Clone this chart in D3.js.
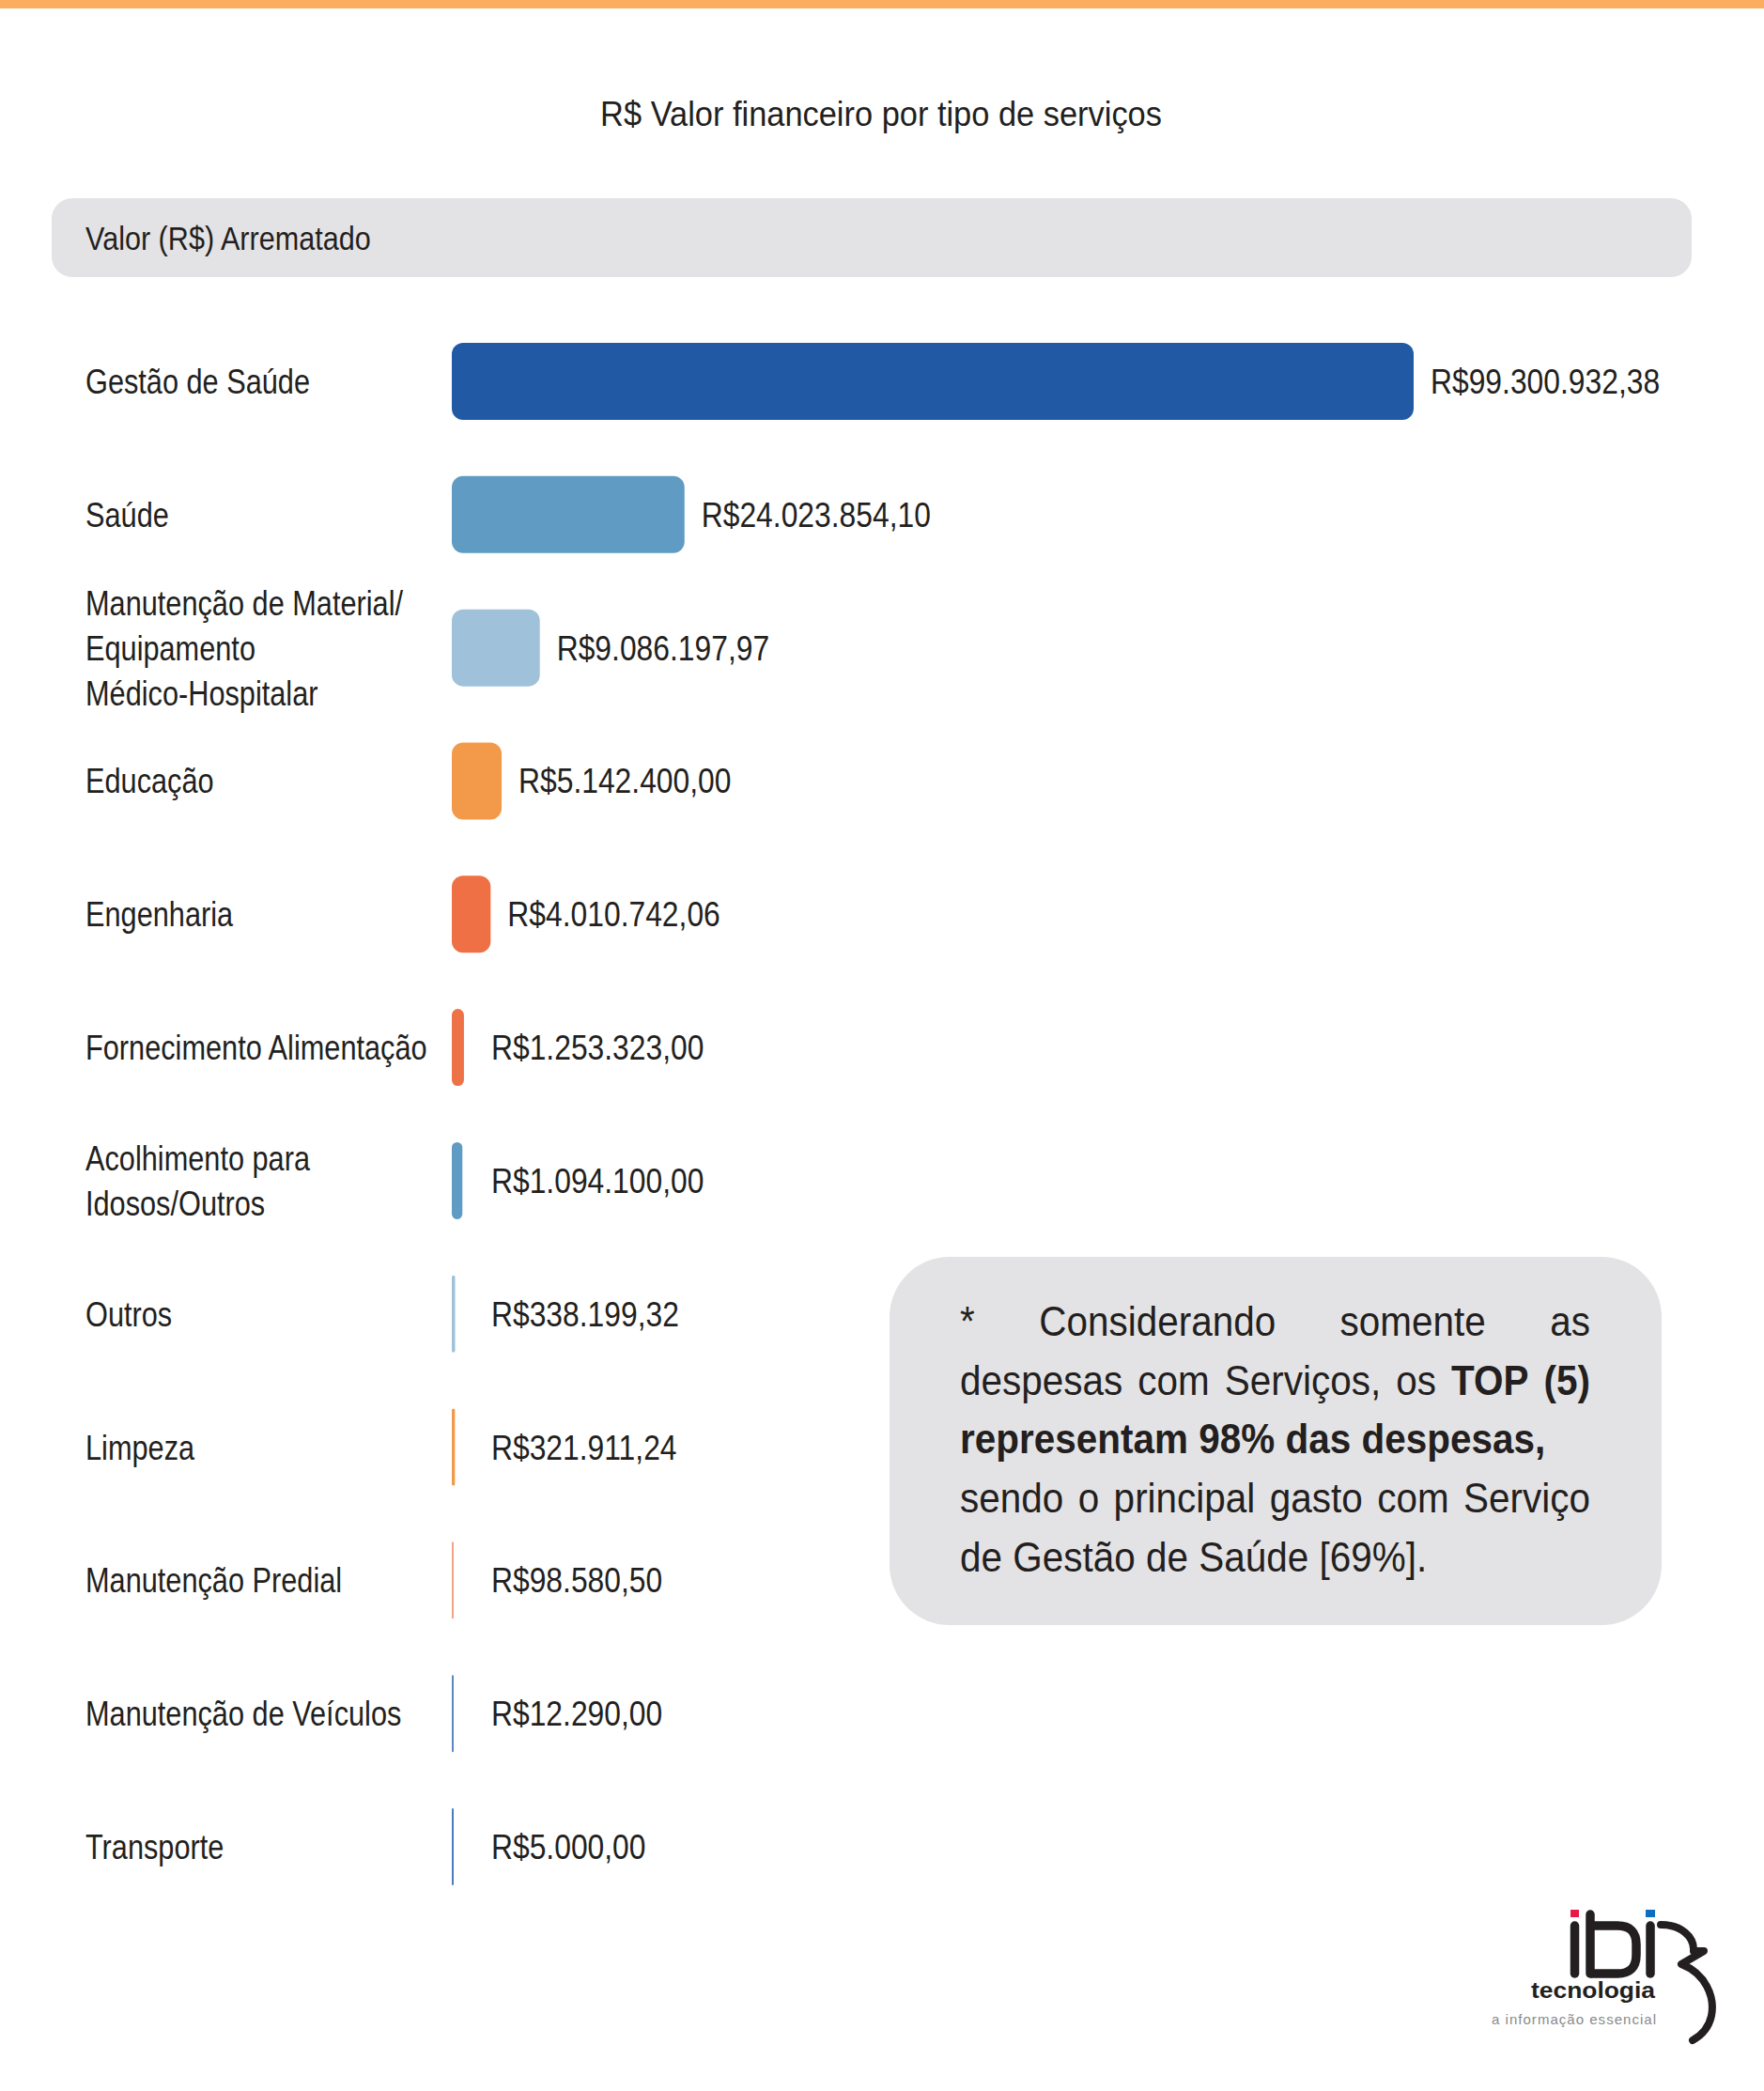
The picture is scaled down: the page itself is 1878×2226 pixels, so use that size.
<!DOCTYPE html>
<html><head><meta charset="utf-8">
<script src="https://cdn.jsdelivr.net/npm/d3@7"></script>
<style>
html,body{margin:0;padding:0;background:#fff;}
svg{display:block;}
text{font-family:"Liberation Sans",Arial,Helvetica,sans-serif;}
</style></head><body>
<svg id="chart" width="1878" height="2226"></svg>
<script>
// ---------- data ----------
const chartTitle = "R$ Valor financeiro por tipo de serviços";
const panelTitle = "Valor (R$) Arrematado";
const categories = [
  "Gestão de Saúde",
  "Saúde",
  "Manutenção de Material/\nEquipamento\nMédico-Hospitalar",
  "Educação",
  "Engenharia",
  "Fornecimento Alimentação",
  "Acolhimento para\nIdosos/Outros",
  "Outros",
  "Limpeza",
  "Manutenção Predial",
  "Manutenção de Veículos",
  "Transporte"
];
const values = [
  99300932.38, 24023854.10, 9086197.97, 5142400.00, 4010742.06, 1253323.00,
  1094100.00, 338199.32, 321911.24, 98580.50, 12290.00, 5000.00
];
const barColors = [
  "#2159A5", "#5F9BC2", "#9FC2DA", "#F39A4A", "#EF7045", "#EE7248",
  "#5F9BC2", "#9FC2DA", "#F39A4A", "#F2A487", "#5B87BF", "#4A7CC0"
];
const noteLines = [
  [["*",0],["Considerando",0],["somente",0],["as",0]],
  [["despesas",0],["com",0],["Serviços,",0],["os",0],["TOP",1],["(5)",1]],
  [["representam",1],["98%",1],["das",1],["despesas,",1]],
  [["sendo",0],["o",0],["principal",0],["gasto",0],["com",0],["Serviço",0]],
  [["de",0],["Gestão",0],["de",0],["Saúde",0],["[69%].",0]]
];
const noteJustify = [true, true, false, true, false];

// ---------- helpers ----------
const INK = "#231F20";
function ctext(parent, x, y, str, size, sx, opt = {}) {
  return parent.append("text")
    .attr("transform", `translate(${x},${y}) scale(${sx},1)`)
    .attr("font-size", size)
    .attr("fill", opt.fill || INK)
    .attr("font-weight", opt.bold ? "bold" : null)
    .attr("text-anchor", opt.anchor || null)
    .text(str);
}

// ---------- chart ----------
const svg = d3.select("#chart");
const W = 1878, H = 2226;
svg.append("rect").attr("width", W).attr("height", H).attr("fill", "#fff");
svg.append("rect").attr("x", 0).attr("y", 0).attr("width", W).attr("height", 9).attr("fill", "#FBAE5E");

// title, fitted to the reference width
{
  const t = ctext(svg, 938, 134, chartTitle, 36, 1, {anchor: "middle"});
  const w = t.node().getComputedTextLength();
  t.attr("transform", `translate(938,134) scale(${598 / w},1)`);
}

svg.append("rect").attr("x", 55).attr("y", 211).attr("width", 1746).attr("height", 84)
  .attr("rx", 22).attr("fill", "#E3E3E5");
ctext(svg, 91, 266, panelTitle, 36, 0.85);

const fmt = d3.formatLocale({decimal: ",", thousands: ".", grouping: [3], currency: ["R$", ""]}).format("$,.2f");

const x = d3.scaleLinear().domain([0, d3.max(values)]).range([481, 1505]);
const y = d3.scalePoint().domain(d3.range(categories.length)).range([406, 1966]);
const barH = 82;

const rows = svg.append("g").selectAll("g").data(values).join("g");

rows.append("rect")
  .attr("x", x(0))
  .attr("y", (d, i) => y(i) - barH / 2)
  .attr("width", d => Math.max(2, x(d) - x(0)))
  .attr("height", barH)
  .attr("rx", d => Math.min(12, Math.max(1, (x(d) - x(0)) / 2)))
  .attr("fill", (d, i) => barColors[i]);

rows.each(function(d, i) {
  const g = d3.select(this);
  ctext(g, Math.max(x(d) + 18, 523), y(i) + 13, fmt(d), 37, 0.86);
  const lines = categories[i].split("\n");
  lines.forEach((ln, k) => {
    ctext(g, 91, y(i) + (k - (lines.length - 1) / 2) * 48 + 13, ln, 37, 0.83);
  });
});

// ---------- note box ----------
svg.append("rect").attr("x", 947).attr("y", 1338).attr("width", 822).attr("height", 392)
  .attr("rx", 64).attr("fill", "#E3E3E5");
const noteX = 1022, noteW = 671, noteY0 = 1422, noteLH = 62.7, noteFS = 44, noteSX = 0.92;
const ng = svg.append("g");
noteLines.forEach((words, li) => {
  const yy = noteY0 + li * noteLH;
  const items = words.map(([w, b]) => {
    const t = ctext(ng, 0, yy, w, noteFS, noteSX, {bold: b});
    return {t, w: t.node().getComputedTextLength() * noteSX};
  });
  const total = d3.sum(items, d => d.w);
  const space = noteFS * 0.278 * noteSX;
  const gap = noteJustify[li] ? (noteW - total) / (items.length - 1) : space;
  let cx = noteX;
  items.forEach(it => {
    it.t.attr("transform", `translate(${cx},${yy}) scale(${noteSX},1)`);
    cx += it.w + gap;
  });
});

// ---------- logo ----------
const logo = svg.append("g");
logo.append("rect").attr("x", 1672).attr("y", 2033).attr("width", 9).attr("height", 8).attr("fill", "#E8194A");
logo.append("rect").attr("x", 1752).attr("y", 2033).attr("width", 10).attr("height", 8).attr("fill", "#0D6EC2");
const stroke = INK;
logo.append("line").attr("x1", 1676.5).attr("x2", 1676.5).attr("y1", 2050).attr("y2", 2101)
  .attr("stroke", stroke).attr("stroke-width", 9.5).attr("stroke-linecap", "round");
logo.append("line").attr("x1", 1693).attr("x2", 1693).attr("y1", 2038).attr("y2", 2101)
  .attr("stroke", stroke).attr("stroke-width", 9.5).attr("stroke-linecap", "round");
logo.append("path").attr("d", "M1693,2050 H1722 Q1742,2050 1742,2070 V2081 Q1742,2101 1722,2101 H1693")
  .attr("fill", "none").attr("stroke", stroke).attr("stroke-width", 9.5);
logo.append("line").attr("x1", 1757).attr("x2", 1757).attr("y1", 2050).attr("y2", 2101)
  .attr("stroke", stroke).attr("stroke-width", 9.5).attr("stroke-linecap", "round");
logo.append("path").attr("d", "M1768,2049 C1790,2049 1804,2062 1803,2077 L1814,2077 L1790,2091 C1816,2101 1826,2126 1822,2146 C1819,2160 1811,2167 1802,2172")
  .attr("fill", "none").attr("stroke", stroke).attr("stroke-width", 8).attr("stroke-linecap", "round").attr("stroke-linejoin", "round");
logo.append("text").attr("x", 1630).attr("y", 2127).attr("font-family", "Lato, 'Open Sans', sans-serif")
  .attr("font-weight", "bold").attr("font-size", 23).attr("textLength", 132).attr("lengthAdjust", "spacingAndGlyphs")
  .attr("fill", stroke).text("tecnologia");
logo.append("text").attr("x", 1588).attr("y", 2155).attr("font-family", "Lato, 'Open Sans', sans-serif")
  .attr("font-size", 15).attr("textLength", 175).attr("lengthAdjust", "spacing")
  .attr("fill", "#8A8A8A").text("a informação essencial");
</script>
</body></html>
